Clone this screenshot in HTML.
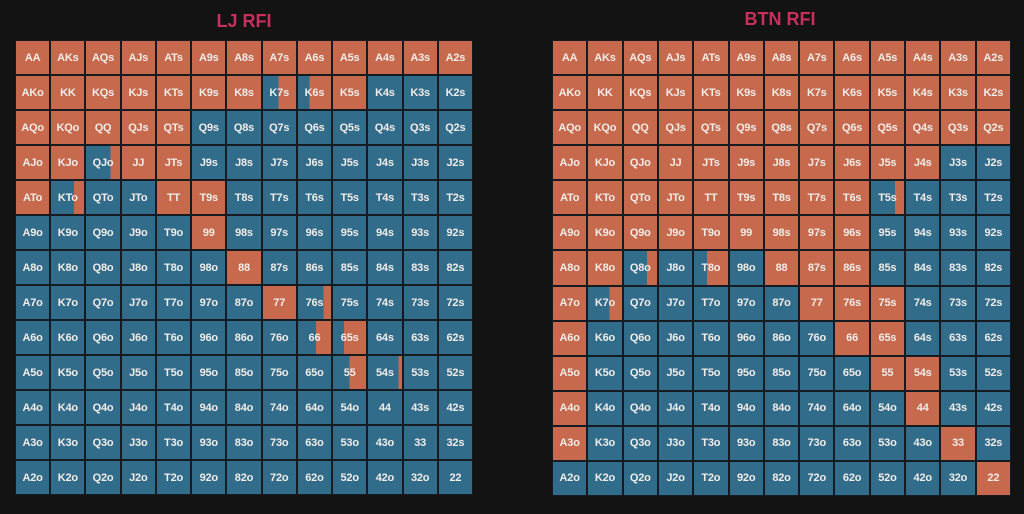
<!DOCTYPE html>
<html><head><meta charset="utf-8">
<style>
html,body{margin:0;padding:0;background:#131313;width:1024px;height:514px;overflow:hidden;font-family:"Liberation Sans",sans-serif;}
.title{position:absolute;color:#c7305c;font-weight:bold;font-size:18px;text-align:center;width:200px;}
.grid{position:absolute;background:#161b22;}
.cell{position:absolute;color:#f0ece8;font-weight:bold;font-size:11px;display:flex;align-items:center;justify-content:center;letter-spacing:-0.2px;}
</style></head>
<body>
<div class="title" style="left:144px;top:11px;">LJ RFI</div>
<div class="title" style="left:680px;top:9px;">BTN RFI</div>
<div id="lj" class="grid" style="left:15px;top:40px;width:458px;height:455px;"></div>
<div id="btn" class="grid" style="left:552px;top:40px;width:459px;height:456px;"></div>
<script>
const ranks = ['A','K','Q','J','T','9','8','7','6','5','4','3','2'];
// raise frequency per cell (row-major, 13x13), 1 = always raise, 0 = fold
const ljFreq = [
 [1,1,1,1,1,1,1,1,1,1,1,1,1],
 [1,1,1,1,1,1,1,0.53,0.65,1,0,0,0],
 [1,1,1,1,1,0,0,0,0,0,0,0,0],
 [1,1,0.28,1,1,0,0,0,0,0,0,0,0],
 [1,0.3,0,0,1,1,0,0,0,0,0,0,0],
 [0,0,0,0,0,1,0,0,0,0,0,0,0],
 [0,0,0,0,0,0,1,0,0,0,0,0,0],
 [0,0,0,0,0,0,0,1,0.23,0,0,0,0],
 [0,0,0,0,0,0,0,0,0.45,0.67,0,0,0],
 [0,0,0,0,0,0,0,0,0,0.5,0.1,0,0],
 [0,0,0,0,0,0,0,0,0,0,0,0,0],
 [0,0,0,0,0,0,0,0,0,0,0,0,0],
 [0,0,0,0,0,0,0,0,0,0,0,0,0]
];
const btnFreq = [
 [1,1,1,1,1,1,1,1,1,1,1,1,1],
 [1,1,1,1,1,1,1,1,1,1,1,1,1],
 [1,1,1,1,1,1,1,1,1,1,1,1,1],
 [1,1,1,1,1,1,1,1,1,1,1,0,0],
 [1,1,1,1,1,1,1,1,1,0.27,0,0,0],
 [1,1,1,1,1,1,1,1,1,0,0,0,0],
 [1,1,0.3,0,0.62,0,1,1,1,0,0,0,0],
 [1,0.37,0,0,0,0,0,1,1,1,0,0,0],
 [1,0,0,0,0,0,0,0,1,1,0,0,0],
 [1,0,0,0,0,0,0,0,0,1,1,0,0],
 [1,0,0,0,0,0,0,0,0,0,1,0,0],
 [1,0,0,0,0,0,0,0,0,0,0,1,0],
 [0,0,0,0,0,0,0,0,0,0,0,0,1]
];
const ORANGE='#c6694d', BLUE='#326c8b';
function label(i,j){
  if(i===j) return ranks[i]+ranks[j];
  if(j>i) return ranks[i]+ranks[j]+'s';
  return ranks[j]+ranks[i]+'o';
}
function build(id, freq, prefix){
  const g=document.getElementById(id);
  const W=parseFloat(g.style.width), H=parseFloat(g.style.height);
  const pw=W/13, ph=H/13, gap=2;
  for(let i=0;i<13;i++)for(let j=0;j<13;j++){
    const f=freq[i][j];
    const d=document.createElement('div');
    d.className='cell';
    
    
    d.style.left=(j*pw+1)+'px';
    d.style.top=(i*ph+1)+'px';
    d.style.width=(pw-gap)+'px';
    d.style.height=(ph-gap)+'px';
    if(f>=1) d.style.background=ORANGE;
    else if(f<=0) d.style.background=BLUE;
    else { const p=((1-f)*100).toFixed(1); d.style.background='linear-gradient(to right,'+BLUE+' '+p+'%,'+ORANGE+' '+p+'%)'; }
    d.textContent=label(i,j);
    g.appendChild(d);
  }
}
build('lj', ljFreq, 'lj');
build('btn', btnFreq, 'btn');
</script>
</body></html>
